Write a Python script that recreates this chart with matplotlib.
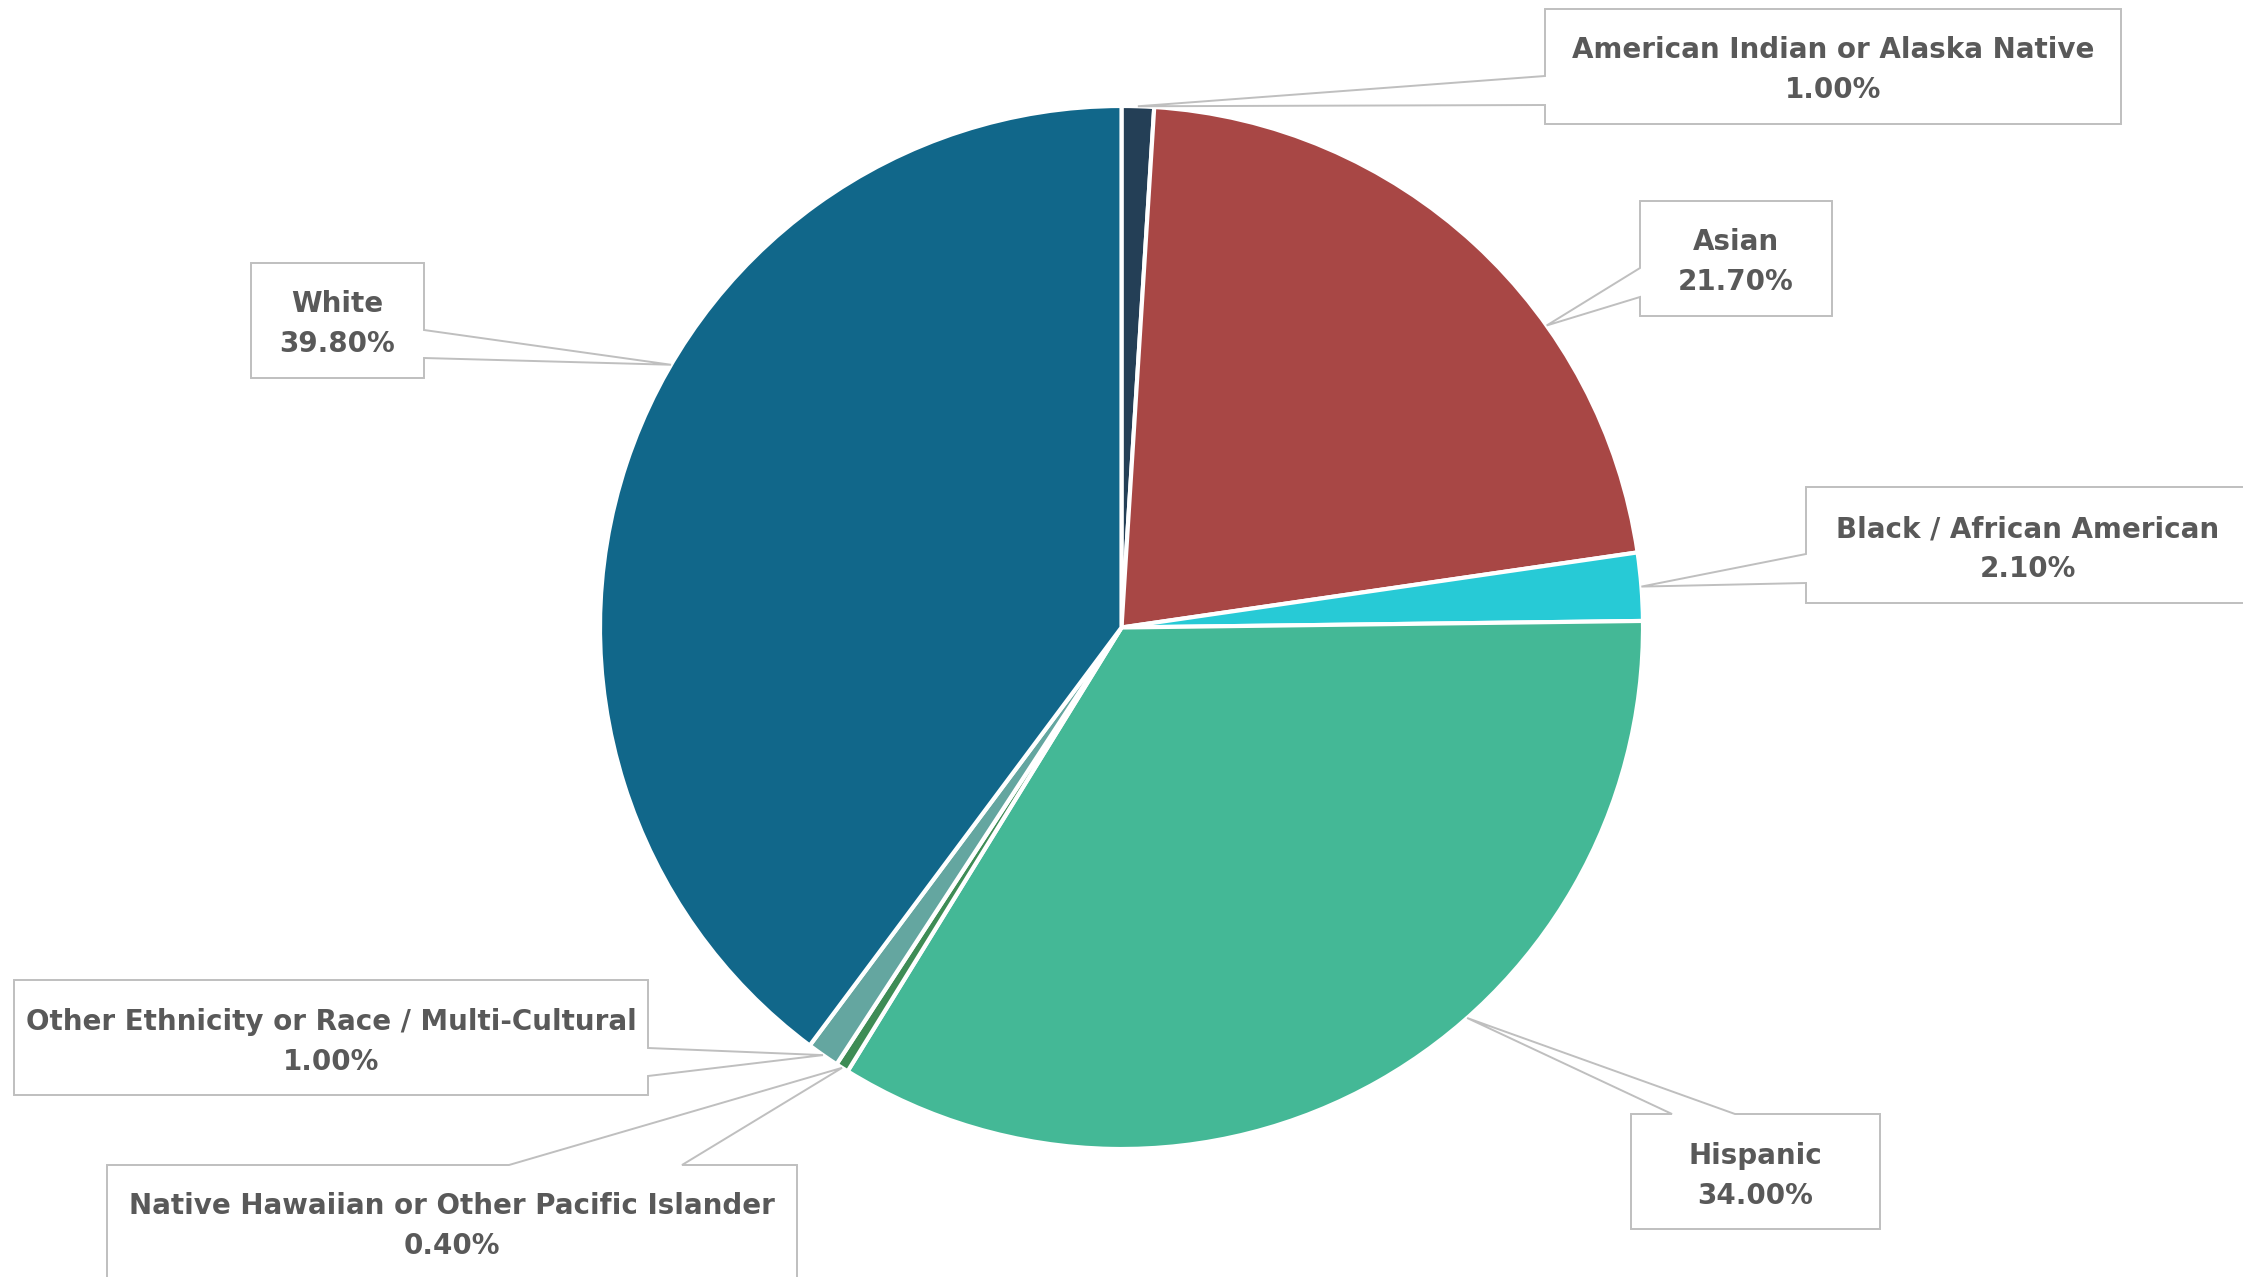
import numpy as np
import matplotlib.pyplot as plt
from matplotlib.patches import Polygon

# share of enrolment by ethnicity, clockwise from 12 o'clock
groups = ["American Indian or Alaska Native", "Asian", "Black / African American",
          "Hispanic", "Native Hawaiian or Other Pacific Islander",
          "Other Ethnicity or Race / Multi-Cultural", "White"]
shares = [1.0, 21.7, 2.1, 34.0, 0.4, 1.0, 39.8]
colors = ["#243F56", "#A84745", "#27CAD6", "#44B896", "#3E8C55", "#64A6A0", "#11678A"]

W, H = 2243, 1277
cx, cy, r = 1121.5, 627.5, 521.5

# callout boxes in pixel units, y pointing down: x0, y0, x1, y1
boxes = [(1545, 9, 2121, 124),
         (1640, 201, 1832, 316),
         (1806, 487, 2250, 603),
         (1631, 1114, 1880, 1229),
         (107, 1165, 797, 1280),
         (14, 980, 648, 1095),
         (251, 263, 424, 378)]
# edge of the box the pointer leaves from, and where it joins that edge
pointer_side = ["left", "left", "left", "top", "top", "right", "right"]
pointer_base = [(76, 105), (268, 297), (554, 583), (1672, 1735), (509, 682), (1048, 1076), (330, 358)]
# how far along each wedge the pointer touches the rim
tip_frac = [0.5, 0.653, 0.5, 0.402, 0.5, 0.5, 0.583]

fig = plt.figure(figsize=(W / 100, H / 100), dpi=100)
ax = fig.add_axes([0, 0, 1, 1])

# y axis runs downwards, so counterclock in data space reads clockwise on screen
wedges, _ = ax.pie(shares, colors=colors, startangle=-90, counterclock=True,
                   center=(cx, cy), radius=r,
                   wedgeprops=dict(edgecolor="white", linewidth=3))

ax.set_xlim(0, W)
ax.set_ylim(H, 0)
ax.set_aspect("equal")
ax.axis("off")


def callout(box, side, base, tip):
    x0, y0, x1, y1 = box
    b1, b2 = base
    if side == "left":
        pts = [(x0, y0), (x1, y0), (x1, y1), (x0, y1), (x0, b2), tip, (x0, b1)]
    elif side == "right":
        pts = [(x0, y0), (x1, y0), (x1, b1), tip, (x1, b2), (x1, y1), (x0, y1)]
    else:
        pts = [(x0, y0), (b1, y0), tip, (b2, y0), (x1, y0), (x1, y1), (x0, y1)]
    ax.add_patch(Polygon(pts, closed=True, facecolor="white", edgecolor="#BFBFBF",
                         linewidth=1.4, zorder=3))


for i, w in enumerate(wedges):
    th = np.deg2rad(w.theta1 + tip_frac[i] * (w.theta2 - w.theta1))
    tip = (cx + r * np.cos(th), cy + r * np.sin(th))
    callout(boxes[i], pointer_side[i], pointer_base[i], tip)

    x0, y0, x1, y1 = boxes[i]
    tx = (x0 + x1) / 2
    mid = (y0 + y1) / 2
    ax.text(tx, mid - 8, groups[i], ha="center", va="baseline", fontsize=20,
            fontweight="bold", color="#595959", zorder=4)
    ax.text(tx, mid + 32, f"{shares[i]:.2f}%", ha="center", va="baseline", fontsize=20,
            fontweight="bold", color="#595959", zorder=4)

fig.savefig("out.png", dpi=100, facecolor="white")
